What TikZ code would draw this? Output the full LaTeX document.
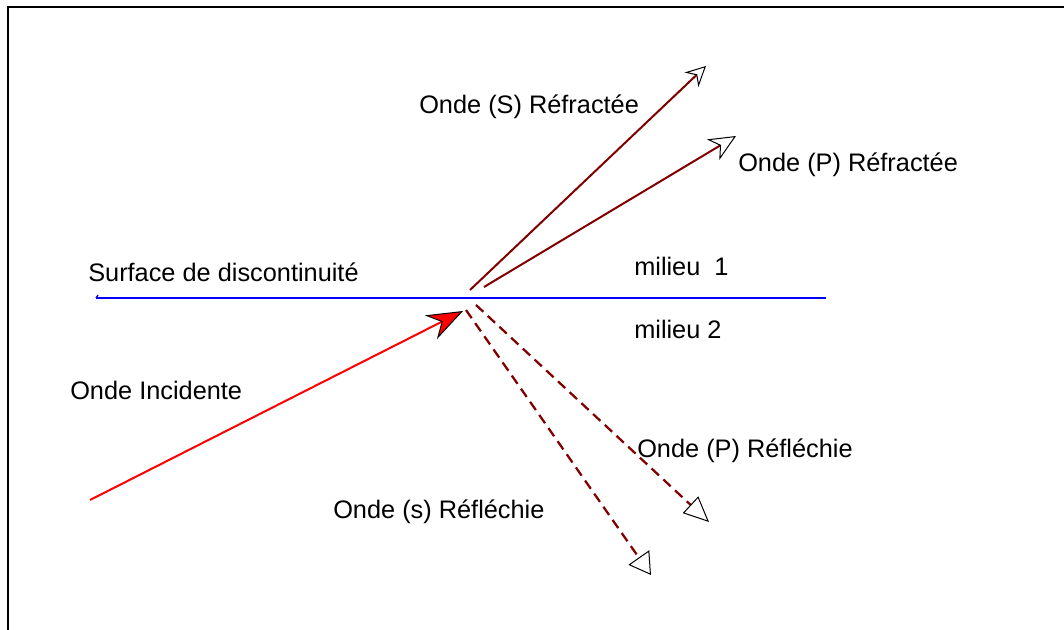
\documentclass[tikz,border=0pt]{standalone}
\usepackage{fontspec}
\setmainfont{Liberation Sans}
\usetikzlibrary{arrows.meta}

\definecolor{wave}{RGB}{128,0,0}

\begin{document}
\begin{tikzpicture}[x=0.75pt, y=-0.75pt, >=Stealth]
  \tikzset{
    lbl/.style={anchor=base west, inner sep=0pt, font=\fontsize{19}{22}\selectfont},
    refr/.style={draw=wave, line width=1.5pt},
    refl/.style={draw=wave, line width=1.7pt, dash pattern=on 7.5pt off 4.5pt},
    openstealth/.tip={Stealth[fill=white, color=black, line width=0.75pt]},
    opentri/.tip={Triangle[fill=white, color=black, line width=0.75pt]}
  }
  \useasboundingbox (0,0) rectangle (1064,630);

  % Frame
  \draw[line width=1.5pt] (8,630) -- (8,7) -- (1064,7);

  % Surface de discontinuite
  \coordinate (sL) at (96,298);
  \coordinate (sR) at (826,298);
  \draw[blue, line width=1.5pt] (sL) -- (sR);
  \draw[blue, line width=1pt] (sL) -- ++(2,-3);

  % Incident wave
  \coordinate (inA) at (90,500);
  \coordinate (inB) at (463,311);
  \draw[red, line width=1.5pt, -{Stealth[length=27pt, width=20pt, inset=9pt, fill=red, color=black, line width=0.75pt]}] (inA) -- (inB);

  % Refracted waves
  \coordinate (rsA) at (470,290);
  \coordinate (rsB) at (706,66);
  \draw[refr, -{openstealth[length=15pt, width=15pt, inset=5pt]}] (rsA) -- (rsB);
  \coordinate (rpA) at (484,287);
  \coordinate (rpB) at (736,136);
  \draw[refr, -{openstealth[length=20pt, width=18pt, inset=6pt]}] (rpA) -- (rpB);

  % Reflected waves
  \coordinate (fpA) at (476,305);
  \coordinate (fpB) at (709,522);
  \draw[refl, -{opentri[length=19pt, width=17pt]}] (fpA) -- (fpB);
  \coordinate (fsA) at (466,310);
  \coordinate (fsB) at (651,575);
  \draw[refl, -{opentri[length=16pt, width=19pt]}] (fsA) -- (fsB);

  % Labels
  \node[lbl] (sRefr) at (419,114) {Onde (S) Réfractée};
  \node[lbl] (pRefr) at (738,172) {Onde (P) Réfractée};
  \node[lbl] (surf) at (88,282) {Surface de discontinuité};
  \node[lbl] (med1) at (634,276) {milieu\ \ 1};
  \node[lbl] (med2) at (634,339) {milieu 2};
  \node[lbl] (inc) at (70,400) {Onde Incidente};
  \node[lbl] (pRefl) at (637,458) {Onde (P) Réfléchie};
  \node[lbl] (sRefl) at (333,519) {Onde (s) Réfléchie};

\end{tikzpicture}
\end{document}
